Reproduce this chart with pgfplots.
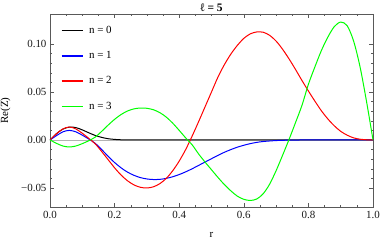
\documentclass[border=0pt]{standalone}
\usepackage{pgfplots}
\pgfplotsset{compat=1.18}
\usepackage{fontspec}
\setmainfont{Liberation Serif}
\begin{document}
\begin{tikzpicture}
\begin{axis}[
  scale only axis,
  width=323bp, height=193bp,
  xmin=0, xmax=1, ymin=-0.0698, ymax=0.1312,
  xtick={0,0.2,0.4,0.6,0.8,1.0},
  xticklabels={0.0,0.2,0.4,0.6,0.8,1.0},
  ytick={-0.05,0,0.05,0.1},
  yticklabels={−0.05,0.00,0.05,0.10},
  minor x tick num=3,
  minor y tick num=4,
  tick align=inside,
  major tick length=4bp,
  minor tick length=2.2bp,
  axis line style={black!65},
  every tick/.style={black!65, line width=0.5pt},
  tick label style={font=\fontsize{11}{12}\selectfont, black!90},
  xticklabel style={yshift=-1bp},
  label style={font=\fontsize{11}{12}\selectfont},
  xlabel={r},
  ylabel={Re(Z)},
  xlabel style={at={(0.5,0)}, anchor=north, yshift=-22bp},
  ylabel style={at={(0,0.5)}, anchor=south, xshift=0bp, yshift=36bp},
  every axis title shift=0pt,
  title={\textbf{ℓ = 5}},
  title style={at={(0.5,1)}, anchor=base, inner sep=0pt, yshift=2bp, font=\fontsize{11.5}{12}\selectfont},
  legend style={draw=none, fill=none, at={(0.03,0.953)}, anchor=north west,
    font=\fontsize{11}{12}\selectfont, row sep=12.5bp, inner sep=1bp},
  legend cell align=left,
  legend image code/.code={\draw[#1, line width=1.4bp] plot coordinates {(0bp,0bp) (10.5bp,0bp) (21bp,0bp)};\path (25bp,0bp);},
  every axis plot/.append style={line width=1bp},
]
\addplot[black!30, line width=0.5pt, forget plot] coordinates {(0,0) (1,0)};
\addplot[color=black, smooth] coordinates {
(0,0) (0.02,0.0065) (0.04,0.0113) (0.06,0.0134) (0.08,0.0129) (0.10,0.0105)
(0.12,0.0075) (0.14,0.0047) (0.16,0.0027) (0.18,0.0013) (0.20,0.0006)
(0.22,0.0002) (0.25,0.00003) (0.30,0) (0.40,0) (0.50,0) (0.60,0) (0.70,0) (0.80,0) (0.90,0) (1.0,0)};
\addlegendentry{n = 0}
\addplot[color=blue, smooth] coordinates {
(0,0) (0.02,0.0045) (0.04,0.0085) (0.06,0.0100) (0.08,0.0085) (0.10,0.0050)
(0.12,0.0010) (0.14,-0.0035) (0.16,-0.0100) (0.18,-0.0170) (0.20,-0.0235)
(0.22,-0.0290) (0.24,-0.0335) (0.26,-0.0368) (0.28,-0.0392) (0.30,-0.0406)
(0.32,-0.0412) (0.34,-0.0410) (0.36,-0.0400) (0.38,-0.0383) (0.40,-0.0360)
(0.42,-0.0332) (0.44,-0.0300) (0.46,-0.0265) (0.48,-0.0230) (0.50,-0.0195)
(0.52,-0.0160) (0.54,-0.0128) (0.56,-0.0100) (0.58,-0.0075) (0.60,-0.0055)
(0.62,-0.0038) (0.64,-0.0025) (0.66,-0.0016) (0.70,-0.0006) (0.75,-0.0001)
(0.80,0) (0.90,0) (1.0,0)};
\addlegendentry{n = 1}
\addplot[color=red, smooth] coordinates {
(0,0) (0.02,0.0065) (0.04,0.0115) (0.06,0.0135) (0.08,0.0115) (0.10,0.0070)
(0.12,0.0017) (0.14,-0.0040) (0.16,-0.0120) (0.18,-0.0205) (0.20,-0.0290)
(0.22,-0.0365) (0.24,-0.0425) (0.26,-0.0468) (0.28,-0.0493) (0.30,-0.0500)
(0.32,-0.0488) (0.34,-0.0455) (0.36,-0.0400) (0.38,-0.0320) (0.40,-0.0220)
(0.42,-0.0100) (0.44,0.0040) (0.46,0.0190) (0.48,0.0345) (0.50,0.0500)
(0.52,0.0655) (0.54,0.0785) (0.56,0.0895) (0.58,0.0985) (0.60,0.1058)
(0.62,0.1105) (0.64,0.1125) (0.66,0.1122) (0.68,0.1090) (0.70,0.1030)
(0.72,0.0945) (0.74,0.0845) (0.76,0.0735) (0.78,0.0620) (0.80,0.0510)
(0.82,0.0405) (0.84,0.0305) (0.86,0.0220) (0.88,0.0148) (0.90,0.0090)
(0.92,0.0050) (0.94,0.0022) (0.96,0.0008) (0.98,0.0002) (1.00,0)};
\addlegendentry{n = 2}
\addplot[color=green, smooth] coordinates {
(0,0) (0.02,-0.0035) (0.04,-0.0063) (0.06,-0.0073) (0.08,-0.0063) (0.10,-0.0038)
(0.12,-0.0008) (0.14,0.0030) (0.16,0.0090) (0.18,0.0155) (0.20,0.0215)
(0.22,0.0265) (0.24,0.0302) (0.26,0.0324) (0.28,0.0333) (0.30,0.0330)
(0.32,0.0315) (0.34,0.0285) (0.36,0.0238) (0.38,0.0175) (0.40,0.0100)
(0.42,0.0022) (0.44,-0.0050) (0.46,-0.0145) (0.48,-0.0230) (0.50,-0.0310)
(0.52,-0.0390) (0.54,-0.0465) (0.56,-0.0530) (0.58,-0.0585) (0.60,-0.0618)
(0.62,-0.0630) (0.64,-0.0615) (0.66,-0.0560) (0.68,-0.0460) (0.70,-0.0320)
(0.72,-0.0160) (0.74,0.0005) (0.76,0.0180) (0.78,0.0360) (0.80,0.0580)
(0.82,0.0760) (0.84,0.0930) (0.86,0.1070) (0.88,0.1180) (0.90,0.1228)
(0.92,0.1190) (0.94,0.1030) (0.96,0.0760) (0.98,0.0400) (1.00,0)};
\addlegendentry{n = 3}
\end{axis}
\pgfresetboundingbox
\path (-50bp,-35bp) rectangle (331bp,207bp);
\end{tikzpicture}
\end{document}
